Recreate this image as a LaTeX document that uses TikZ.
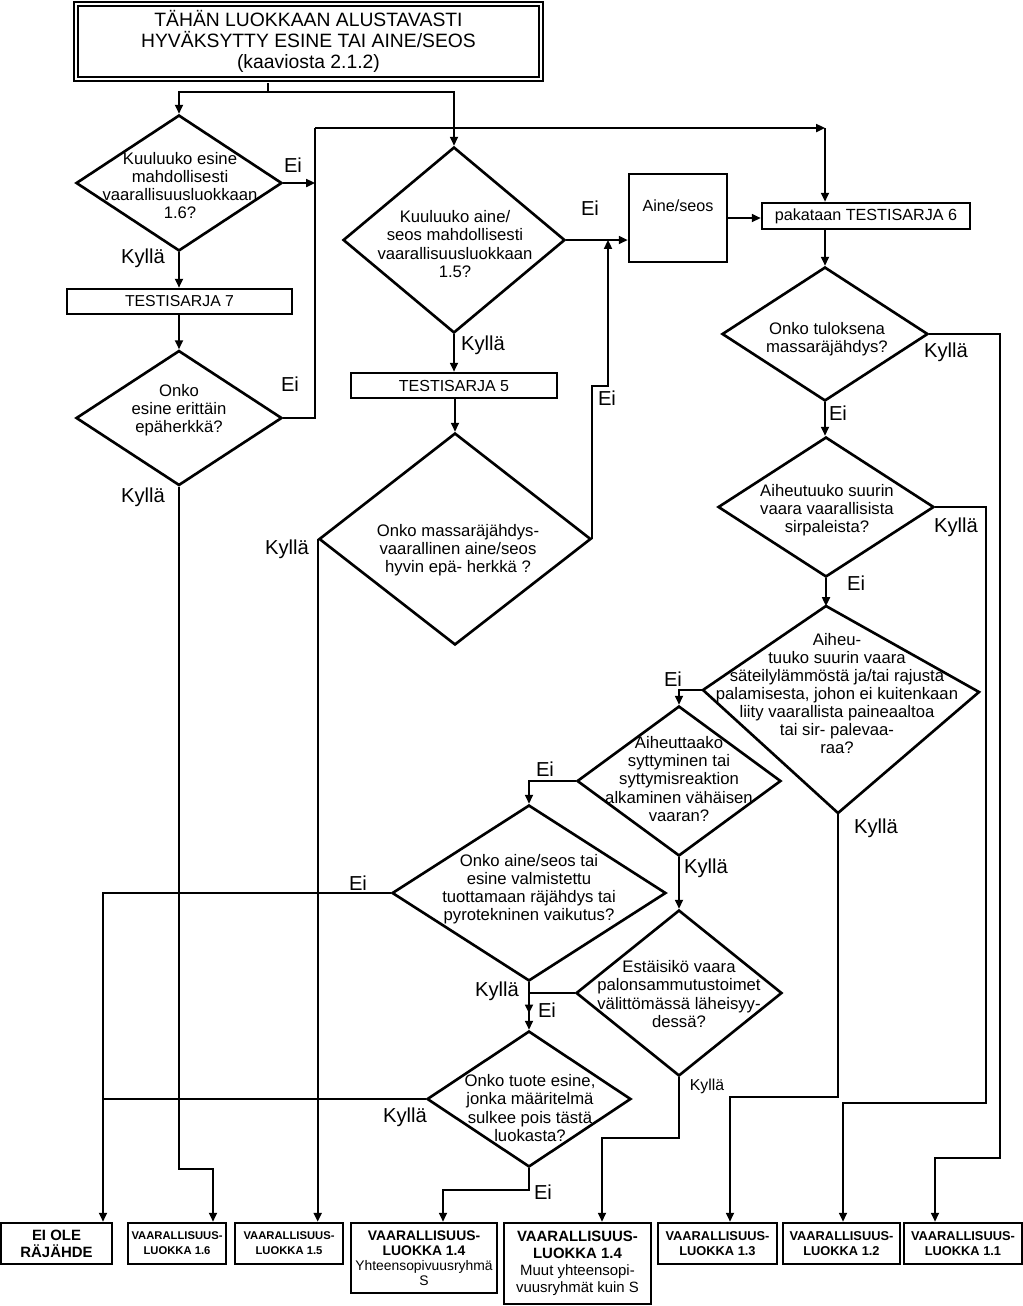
\documentclass[tikz,border=0pt]{standalone}
\usepackage{fontspec}
\setmainfont{Liberation Sans}
\usetikzlibrary{shapes.geometric,arrows.meta}

\begin{document}
\begin{tikzpicture}[x=0.02cm,y=-0.02cm,
  dia/.style={draw,shape=diamond,line width=1.5pt,inner sep=0pt},
  box/.style={draw,line width=1.5pt,inner sep=0pt},
  qtxt/.style={align=center,inner sep=0pt,font=\fontsize{9.5}{10.3}\selectfont},
  btxt/.style={align=center,inner sep=0pt,font=\fontsize{9.2}{10}\selectfont},
  lbl/.style={inner sep=0pt,font=\fontsize{11.5}{12}\selectfont},
  lbls/.style={inner sep=0pt,font=\fontsize{9}{10}\selectfont},
  ln/.style={line width=1.1pt},
  arr/.style={ln,-{Triangle[length=5pt,width=4.5pt]}},
  cls/.style={box,align=center,minimum height=0.82cm}]

\useasboundingbox (0,0) rectangle (1023,1306);

%start box
\node[draw,double,line width=1.1pt,double distance=1.6pt,minimum width=9.3cm,minimum height=1.5cm,
  align=center,inner sep=0pt,font=\fontsize{11}{12}\selectfont] (start) at (308.5,41.5)
  {TÄHÄN LUOKKAAN ALUSTAVASTI\\HYVÄKSYTTY ESINE TAI AINE/SEOS\\(kaaviosta 2.1.2)};
\coordinate (stub) at (268,83);
\coordinate (split) at (268,92);

%left column
\node[dia,minimum width=4.12cm,minimum height=2.72cm] (d1) at (179,183) {};
\node[qtxt] (q1) at (180,185.5) {Kuuluuko esine\\mahdollisesti\\vaarallisuusluokkaan\\1.6?};
\node[box,minimum width=4.5cm,minimum height=0.5cm,font=\fontsize{9}{10}\selectfont] (ts7) at (179.5,301.5) {TESTISARJA 7};
\node[dia,minimum width=4.12cm,minimum height=2.7cm] (d3) at (179,418) {};
\node[qtxt] (q3) at (179,410) {Onko\\esine erittäin\\epäherkkä?};

%middle column
\node[dia,minimum width=4.44cm,minimum height=3.72cm] (d2) at (454,240) {};
\node[qtxt] (q2) at (455,244) {Kuuluuko aine/\\seos mahdollisesti\\vaarallisuusluokkaan\\1.5?};
\node[box,minimum width=4.12cm,minimum height=0.5cm,font=\fontsize{9.1}{10}\selectfont] (ts5) at (454,385.5) {TESTISARJA 5};
\node[dia,minimum width=5.44cm,minimum height=4.24cm] (d4) at (455,539) {};
\node[qtxt] (q4) at (458,550) {Onko massaräjähdys-\\vaarallinen aine/seos\\hyvin epä- herkkä ?};
\node[box,minimum width=1.96cm,minimum height=1.76cm] (aine) at (678,218) {};
\node[btxt] (ainetxt) at (678,206) {Aine/seos};

%right column
\node[box,minimum width=4.16cm,minimum height=0.52cm,font=\fontsize{9.2}{10}\selectfont] (p6) at (866,216) {pakataan TESTISARJA 6};
\node[dia,minimum width=4.12cm,minimum height=2.68cm] (d5) at (825,334) {};
\node[qtxt] (q5) at (827,339) {Onko tuloksena\\massaräjähdys?};
\node[dia,minimum width=4.32cm,minimum height=2.8cm] (d6) at (826,507) {};
\node[qtxt] (q6) at (827,510) {Aiheutuuko suurin\\vaara vaarallisista\\sirpaleista?};
\coordinate (d7n) at (826,606);
\coordinate (d7e) at (979,692);
\coordinate (d7s) at (838,813);
\coordinate (d7w) at (703,690);
\draw[line width=1.5pt] (d7n) -- (d7e) -- (d7s) -- (d7w) -- cycle;
\node[qtxt] (q7) at (837,693.5) {Aiheu-\\tuuko suurin vaara\\säteilylämmöstä ja/tai rajusta\\palamisesta, johon ei kuitenkaan\\liity vaarallista paineaaltoa\\tai sir- palevaa-\\raa?};
\node[dia,minimum width=4.08cm,minimum height=3cm] (d8) at (679,781) {};
\node[qtxt] (q8) at (679,779) {Aiheuttaako\\syttyminen tai\\syttymisreaktion\\alkaminen vähäisen\\vaaran?};
\node[dia,minimum width=5.48cm,minimum height=3.52cm] (d9) at (529,893) {};
\node[qtxt] (q9) at (529,889) {Onko aine/seos tai\\esine valmistettu\\tuottamaan räjähdys tai\\pyrotekninen vaikutus?};
\node[dia,minimum width=4.12cm,minimum height=3.32cm] (d10) at (679,993) {};
\node[qtxt] (q10) at (679,994) {Estäisikö vaara\\palonsammutustoimet\\välittömässä läheisyy-\\dessä?};
\node[dia,minimum width=4.08cm,minimum height=2.72cm] (d11) at (529,1099) {};
\node[qtxt] (q11) at (530,1108) {Onko tuote esine,\\jonka määritelmä\\sulkee pois tästä\\luokasta?};

%result boxes
\node[cls,minimum width=2.22cm,font=\bfseries\fontsize{8.5}{9.6}\selectfont] (ei) at (56.5,1243.5) {EI OLE\\RÄJÄHDE};
\node[cls,minimum width=1.96cm,font=\bfseries\fontsize{6.4}{8.5}\selectfont] (v16) at (177,1243.5) {VAARALLISUUS-\\LUOKKA 1.6};
\node[cls,minimum width=2.16cm,font=\bfseries\fontsize{6.4}{8.5}\selectfont] (v15) at (289,1243.5) {VAARALLISUUS-\\LUOKKA 1.5};
\node[cls,minimum width=2.92cm,minimum height=1.4cm,font=\fontsize{7.9}{8.5}\selectfont] (v14s) at (424,1258)
  {\textbf{VAARALLISUUS-}\\\textbf{LUOKKA 1.4}\\Yhteensopivuusryhmä\\S};
\node[cls,minimum width=2.94cm,minimum height=1.62cm,font=\fontsize{8.5}{9.6}\selectfont] (v14m) at (577.5,1263.5)
  {\textbf{VAARALLISUUS-}\\\textbf{LUOKKA 1.4}\\Muut yhteensopi-\\vuusryhmät kuin S};
\node[cls,minimum width=2.38cm,font=\bfseries\fontsize{7.3}{9}\selectfont] (v13) at (717.5,1243.5) {VAARALLISUUS-\\LUOKKA 1.3};
\node[cls,minimum width=2.34cm,font=\bfseries\fontsize{7.3}{9}\selectfont] (v12) at (841.5,1243.5) {VAARALLISUUS-\\LUOKKA 1.2};
\node[cls,minimum width=2.36cm,font=\bfseries\fontsize{7.3}{9}\selectfont] (v11) at (963,1243.5) {VAARALLISUUS-\\LUOKKA 1.1};

%connectors
\draw[ln] (stub) -- (split);
\draw[arr] (split) -| (d1.north);
\draw[arr] (split) -| (d2.north);
\coordinate (bus) at (315,128);
\coordinate (corner) at (825,128);
\draw[arr] (d1.east) -- (d1.east -| bus);
\draw[arr] (d1.south) -- (d1.south |- ts7.north);
\draw[arr] (d3.north |- ts7.south) -- (d3.north);
\draw[ln] (d3.east) -| (bus);
\draw[arr] (bus) -- (corner);
\draw[arr] (corner) -- (corner |- p6.north);
\draw[arr] (d3.south) -- (179,1169) -| (v16.north -| 213,0);

\draw[arr] (d2.south) -- (d2.south |- ts5.north);
\draw[arr] (d4.north |- ts5.south) -- (d4.north);
\draw[arr] (d2.east) -- (d2.east -| aine.west);
\coordinate (jog) at (608,386);
\draw[arr] (d4.east) |- (jog) -- (jog |- d2.east);
\draw[arr] (d4.west) -- (d4.west |- v15.north);
\draw[arr] (aine.east) -- (aine.east -| p6.west);

\draw[arr] (d5.north |- p6.south) -- (d5.north);
\draw[arr] (d5.east) -| (1000,1158) -| (v11.north -| 935,0);
\draw[arr] (d5.south) -- (d5.south |- d6.north);
\draw[arr] (d6.east) -| (986,1103) -| (v12.north -| 843,0);
\draw[arr] (d6.south) -- (d7n);
\draw[arr] (d7s) -- (838,1097) -| (v13.north -| 730,0);
\draw[arr] (d7w) -| (d8.north);
\draw[arr] (d8.west) -| (d9.north);
\draw[arr] (d8.south) -- (d10.north);
\draw[arr] (d9.west) -| (ei.north -| 103,0);
\draw[arr] (d9.south) -- ++(0,31);
\draw[arr] (d10.west) -| (d11.north);
\draw[arr] (d10.south) -- (679,1138) -| (v14m.north -| 602,0);
\draw[ln] (d11.west) -- (d11.west -| 103,0);
\draw[arr] (d11.south) -- (529,1190) -| (v14s.north -| 443,0);

%labels
\node[lbl] (e1) at (293,165) {Ei};
\node[lbl] (k1) at (143,258) {Kyllä};
\node[lbl] (e3) at (290,384) {Ei};
\node[lbl] (k3) at (143,497) {Kyllä};
\node[lbl] (e2) at (590,208) {Ei};
\node[lbl] (k2) at (483,345) {Kyllä};
\node[lbl] (e4) at (607,398) {Ei};
\node[lbl] (k4) at (287,549) {Kyllä};
\node[lbl] (k5) at (946,352) {Kyllä};
\node[lbl] (e5) at (838,413) {Ei};
\node[lbl] (k6) at (956,527) {Kyllä};
\node[lbl] (e6) at (856,583) {Ei};
\node[lbl] (k7) at (876,828) {Kyllä};
\node[lbl] (e7) at (673,679) {Ei};
\node[lbl] (e8) at (545,769) {Ei};
\node[lbl] (k8) at (706,868) {Kyllä};
\node[lbl] (e9) at (358,883) {Ei};
\node[lbl] (k9) at (497,991) {Kyllä};
\node[lbl] (e10) at (547,1010) {Ei};
\node[lbls] (k10) at (707,1086) {Kyllä};
\node[lbl] (k11) at (405,1117) {Kyllä};
\node[lbl] (e11) at (543,1192) {Ei};

\end{tikzpicture}
\end{document}
